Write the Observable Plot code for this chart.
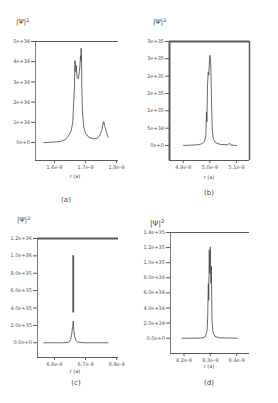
<!DOCTYPE html>
<html><head><meta charset="utf-8">
<script src="https://cdn.jsdelivr.net/npm/d3@7"></script>
<script src="https://cdn.jsdelivr.net/npm/@observablehq/plot@0.6"></script>
<style>
body{margin:0;background:#fff;}
#fig{position:relative;width:278px;height:403px;overflow:hidden;font-family:"DejaVu Sans",sans-serif;color:#555;}
.panel{position:absolute;}
.t{position:absolute;white-space:nowrap;line-height:1;color:#444;}
.c{transform:translate(-50%,-50%);}
</style></head><body><div id="fig"></div>
<script>
// ---- panel (a)
const aX = [1.5655e-9,1.5977e-9,1.6194e-9,1.6355e-9,1.646e-9,1.654e-9,1.659e-9,1.662e-9,1.6645e-9,1.6655e-9,1.6677e-9,1.6688e-9,1.670e-9,1.673e-9,1.6763e-9,1.6796e-9,1.6817e-9,1.6839e-9,1.685e-9,1.686e-9,1.687e-9,1.688e-9,1.6903e-9,1.6945e-9,1.700e-9,1.7106e-9,1.7268e-9,1.7377e-9,1.7461e-9,1.7526e-9,1.757e-9,1.759e-9,1.7613e-9,1.7635e-9,1.7677e-9,1.7732e-9];
const aY = [0,0.02e34,0.05e34,0.15e34,0.35e34,0.6e34,1.0e34,2.0e34,2.75e34,4.06e34,3.97e34,3.48e34,3.81e34,3.23e34,3.15e34,3.4e34,3.73e34,4.3e34,4.06e34,4.67e34,4.3e34,2.82e34,1.5e34,0.76e34,0.46e34,0.26e34,0.18e34,0.21e34,0.35e34,0.6e34,0.97e34,1.04e34,0.84e34,0.76e34,0.51e34,0.26e34];
const aXTicks = [1.6e-9,1.7e-9,1.8e-9];
const aXLabels = ["1.6e-9","1.7e-9","1.8e-9"];
const aYTicks = [0,1e34,2e34,3e34,4e34,5e34];
const aYLabels = ["0e+0","1e+34","2e+34","3e+34","4e+34","5e+34"];
// ---- panel (b)
const bX = [4.901e-9,4.953e-9,4.971e-9,4.980e-9,4.985e-9,4.9876e-9,4.989e-9,4.9914e-9,4.994e-9,4.996e-9,4.999e-9,5.000e-9,5.0026e-9,5.0038e-9,5.0064e-9,5.009e-9,5.0128e-9,5.0214e-9,5.040e-9,5.065e-9,5.075e-9,5.080e-9,5.100e-9];
const bY = [0,0.2e34,0.5e34,1.2e34,2.9e34,9.7e34,6.8e34,17.4e34,21.3e34,20.3e34,25.2e34,26e34,24.7e34,22.3e34,12.6e34,4.8e34,1.9e34,0.8e34,0.3e34,0.2e34,0.6e34,0.1e34,0];
const bXTicks = [4.9e-9,5.0e-9,5.1e-9];
const bXLabels = ["4.9e-9","5.0e-9","5.1e-9"];
const bYTicks = [0,5e34,1e35,1.5e35,2e35,2.5e35,3e35];
const bYLabels = ["0e+0","5e+34","1e+35","2e+35","2e+35","3e+35","3e+35"];
// ---- panel (c)
const cX = [6.5655e-9,6.630e-9,6.646e-9,6.6516e-9,6.6548e-9,6.657e-9,6.659e-9,6.6603e-9,6.6623e-9,6.6645e-9,6.669e-9,6.675e-9,6.6945e-9,6.772e-9];
const cY = [0,0,0.07e35,0.35e35,0.85e35,1.43e35,2.0e35,2.5e35,1.43e35,0.73e35,0.27e35,0.07e35,0,0];
const cSpikeX = [6.6603e-9,6.6603e-9];
const cSpikeY = [3.56e35,1.0e36];
const cXTicks = [6.6e-9,6.7e-9,6.8e-9];
const cXLabels = ["6.6e-9","6.7e-9","6.8e-9"];
const cYTicks = [0,2e35,4e35,6e35,8e35,1e36,1.2e36];
const cYLabels = ["0.0e+0","2.0e+35","4.0e+35","6.0e+35","8.0e+35","1.0e+36","1.2e+36"];
// ---- panel (d)
const dX = [8.1925e-9,8.250e-9,8.2714e-9,8.281e-9,8.2876e-9,8.290e-9,8.2914e-9,8.2925e-9,8.294e-9,8.295e-9,8.296e-9,8.2977e-9,8.299e-9,8.300e-9,8.3015e-9,8.3026e-9,8.3038e-9,8.3053e-9,8.3064e-9,8.3102e-9,8.3177e-9,8.334e-9,8.403e-9];
const dY = [0,0,0.05e34,0.2e34,1.0e34,2.8e34,5.5e34,7.25e34,5.0e34,9.0e34,11.7e34,8.6e34,11.25e34,12.1e34,9.0e34,7.25e34,9.5e34,5.5e34,2.4e34,0.8e34,0.23e34,0.05e34,0];
const dXTicks = [8.2e-9,8.3e-9,8.4e-9];
const dXLabels = ["8.2e-9","8.3e-9","8.4e-9"];
const dYTicks = [0,2e34,4e34,6e34,8e34,1e35,1.2e35,1.4e35];
const dYLabels = ["0.0e+0","2.0e+34","4.0e+34","6.0e+34","8.0e+34","1.0e+35","1.2e+35","1.4e+35"];

const fig = document.getElementById("fig");
const FRAME = "#5a5a5a", LINE = "#444";

function lab(ticks, labels) {
  return d => {
    let best = 0;
    for (let i = 1; i < ticks.length; i++) if (Math.abs(ticks[i]-d) < Math.abs(ticks[best]-d)) best = i;
    return labels[best];
  };
}

function panel(p) {
  const data = p.x.map((x, i) => ({x, y: p.y[i]}));
  const [x0, x1] = p.xd, [y0, y1] = p.yd;
  const marks = [
    Plot.ruleY([y1], {stroke: FRAME, strokeWidth: p.topW}),
    Plot.ruleX([x0], {stroke: FRAME, strokeWidth: p.leftW}),
    Plot.ruleY([y0], {stroke: FRAME, strokeWidth: 1}),
  ];
  if (p.right) marks.push(Plot.ruleX([x1], {stroke: FRAME, strokeWidth: p.rightW}));
  marks.push(
    Plot.axisX({ticks: p.xt, tickFormat: lab(p.xt, p.xl), label: null, tickSize: 3, tickPadding: 2, fontSize: 5, stroke: FRAME, fill: "#555"}),
    Plot.axisY({ticks: p.yt, tickFormat: lab(p.yt, p.yl), label: null, tickSize: 4, tickPadding: 1.5, fontSize: 5, stroke: FRAME, fill: "#555"}),
    Plot.line(data, {x: "x", y: "y", stroke: LINE, strokeWidth: 0.8})
  );
  if (p.sx) {
    const sd = p.sx.map((x, i) => ({x, y: p.sy[i]}));
    marks.push(Plot.line(sd, {x: "x", y: "y", stroke: "#555", strokeWidth: 1.8}));
  }
  const svg = Plot.plot({
    width: p.w, height: p.h,
    marginTop: p.mt, marginBottom: p.mb, marginLeft: p.ml, marginRight: p.mr,
    x: {domain: p.xd, label: null}, y: {domain: p.yd, label: null},
    style: {fontSize: "5px", fontFamily: "DejaVu Sans, sans-serif", color: "#555", background: "transparent", overflow: "visible"},
    marks
  });
  const div = document.createElement("div");
  div.className = "panel";
  div.style.left = p.left + "px"; div.style.top = p.top + "px";
  div.appendChild(svg);
  fig.appendChild(div);
}

function text(html, x, y, size, center) {
  const d = document.createElement("div");
  d.className = "t" + (center ? " c" : "");
  d.style.left = x + "px"; d.style.top = y + "px"; d.style.fontSize = size + "px";
  d.innerHTML = html;
  fig.appendChild(d);
}

// (a)
panel({x: aX, y: aY, xt: aXTicks, xl: aXLabels, yt: aYTicks, yl: aYLabels,
  left: 0, top: 0, w: 139, h: 200, mt: 41, mb: 40, ml: 35, mr: 21,
  xd: [1.5387e-9, 1.8065e-9], yd: [-0.89e34, 5e34], topW: 1, leftW: 0.8});
// (b)
panel({x: bX, y: bY, xt: bXTicks, xl: bXLabels, yt: bYTicks, yl: bYLabels,
  left: 139, top: 0, w: 139, h: 200, mt: 41, mb: 40, ml: 30, mr: 29,
  xd: [4.8485e-9, 5.149e-9], yd: [-4.33e34, 3e35], topW: 2, leftW: 2, right: true, rightW: 1.5});
// (c)
panel({x: cX, y: cY, sx: cSpikeX, sy: cSpikeY, xt: cXTicks, xl: cXLabels, yt: cYTicks, yl: cYLabels,
  left: 0, top: 200, w: 139, h: 203, mt: 38, mb: 46, ml: 37, mr: 21,
  xd: [6.5452e-9, 6.806e-9], yd: [-1.696e35, 1.2e36], topW: 2, leftW: 0.8});
// (d)
panel({x: dX, y: dY, xt: dXTicks, xl: dXLabels, yt: dYTicks, yl: dYLabels,
  left: 139, top: 200, w: 139, h: 203, mt: 32, mb: 50, ml: 31, mr: 29,
  xd: [8.1485e-9, 8.449e-9], yd: [-2.03e34, 1.4e35], topW: 1, leftW: 0.8});

// titles and captions
const PSI = "|Ψ|<sup style='font-size:0.7em;vertical-align:0.5em'>2</sup>";
text(PSI, 16, 18, 7, false);
text(PSI, 153, 18, 7, false);
text(PSI, 17, 216, 7, false);
text(PSI, 150, 219, 7.5, false);
text("r (a)", 75, 176, 5, true);
text("r (a)", 209, 177, 5, true);
text("r (a)", 75, 371, 5, true);
text("r (a)", 209, 366, 5, true);
text("(a)", 66, 200, 7, true);
text("(b)", 209, 193, 7, true);
text("(c)", 76, 383, 7, true);
text("(d)", 209, 383, 7, true);
</script></body></html>
